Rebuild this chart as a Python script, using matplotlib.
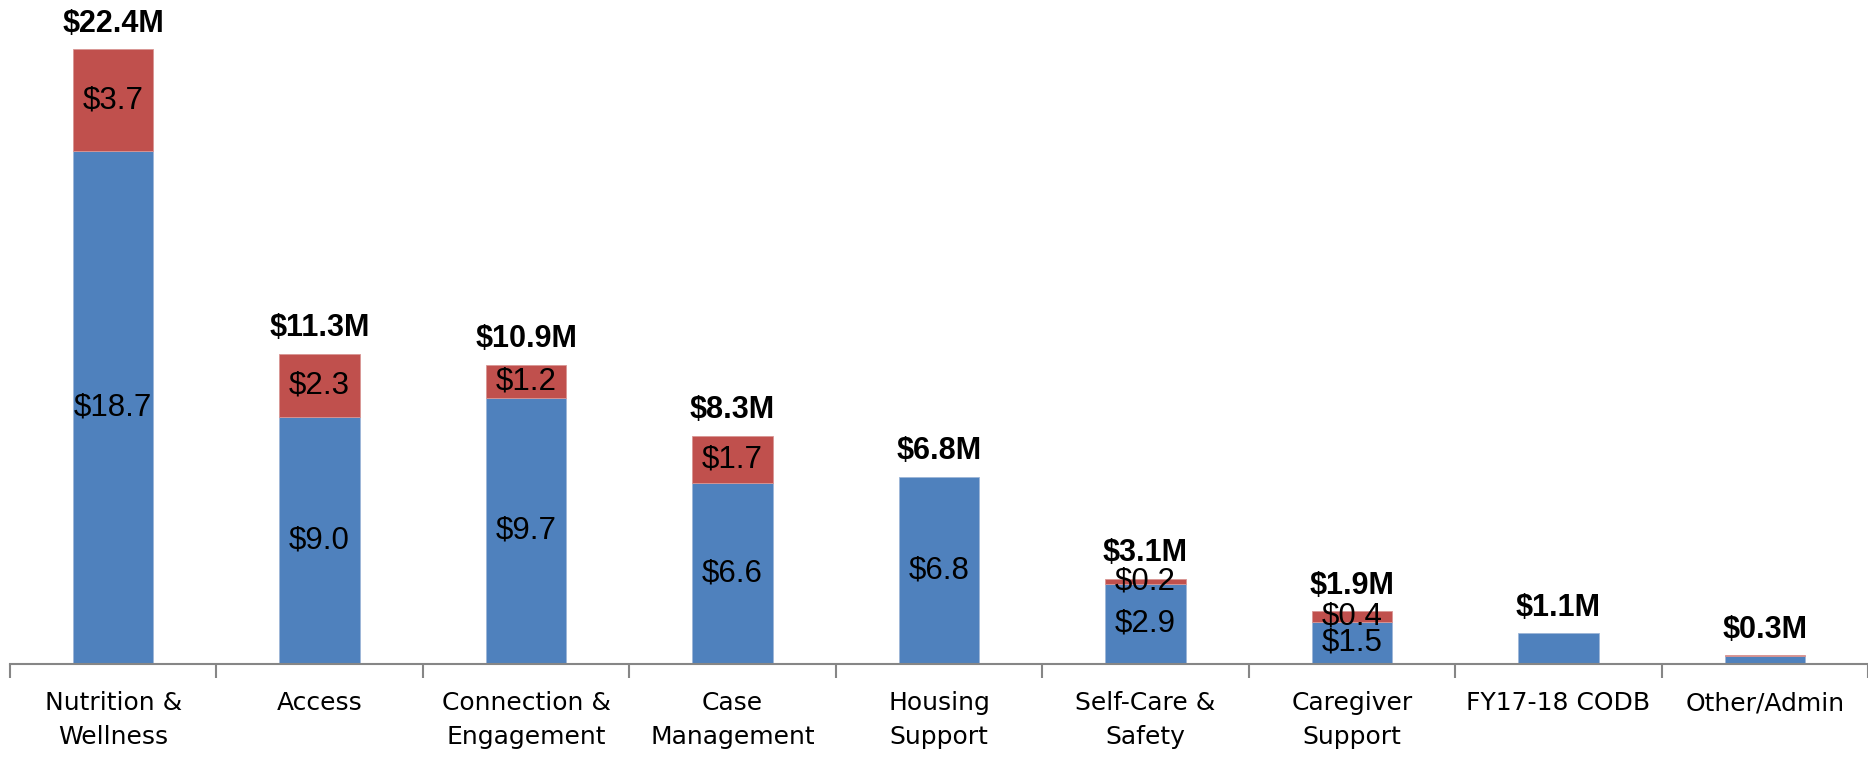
import matplotlib
matplotlib.use("Agg")
import matplotlib.pyplot as plt
import numpy as np

categories = ["Nutrition &\nWellness", "Access", "Connection &\nEngagement", "Case\nManagement",
              "Housing\nSupport", "Self-Care &\nSafety", "Caregiver\nSupport", "FY17-18 CODB", "Other/Admin"]
blue_vals = [18.7, 9.0, 9.7, 6.6, 6.8, 2.9, 1.5, 1.1, 0.27]
red_vals = [3.7, 2.3, 1.2, 1.7, 0.0, 0.2, 0.4, 0.0, 0.03]
blue_labels = ["$18.7", "$9.0", "$9.7", "$6.6", "$6.8", "$2.9", "$1.5", None, None]
red_labels = ["$3.7", "$2.3", "$1.2", "$1.7", None, "$0.2", "$0.4", None, None]
total_labels = ["$22.4M", "$11.3M", "$10.9M", "$8.3M", "$6.8M", "$3.1M", "$1.9M", "$1.1M", "$0.3M"]

BLUE = "#4F81BD"
RED = "#C0504D"

fig = plt.figure(figsize=(18.68, 7.57), dpi=100)
ax = fig.add_axes([0.0053, 0.1235, 0.9947, 0.8765])

x = np.arange(len(categories))
w = 0.39
ax.bar(x, blue_vals, w, color=BLUE, edgecolor="#9db6d8", linewidth=0.6)
nz = [i for i in range(len(red_vals)) if red_vals[i] > 0]
ax.bar(x[nz], [red_vals[i] for i in nz], w, bottom=[blue_vals[i] for i in nz],
       color=RED, edgecolor="#d99694", linewidth=0.6)

lab_font = dict(family=["Liberation Sans", "DejaVu Sans"], fontsize=22.5, color="black")
for i in range(len(categories)):
    if blue_labels[i]:
        ax.text(x[i], blue_vals[i] / 2, blue_labels[i], ha="center", va="center", **lab_font)
    if red_labels[i]:
        ax.text(x[i], blue_vals[i] + red_vals[i] / 2, red_labels[i], ha="center", va="center", **lab_font)
    tot = blue_vals[i] + red_vals[i]
    ax.annotate(total_labels[i], (x[i], tot), xytext=(0, 18.5), textcoords="offset points",
                ha="center", va="center", fontsize=22, fontweight="bold",
                family=["Liberation Sans", "DejaVu Sans"])

ax.set_xlim(-0.5, len(categories) - 0.5)
ax.set_ylim(0, 24.2)
for s in ["top", "right", "left"]:
    ax.spines[s].set_visible(False)
ax.spines["bottom"].set_color("#868686")
ax.spines["bottom"].set_linewidth(1.5)
ax.set_yticks([])
ax.set_xticks(x)
ax.set_xticklabels(categories, family=["DejaVu Sans"], fontsize=18, linespacing=1.5, va="top")
ax.tick_params(axis="x", which="major", length=0, pad=20)
ax.set_xticks(np.arange(-0.5, len(categories), 1.0), minor=True)
ax.tick_params(axis="x", which="minor", length=10, width=1.5, color="#868686")

fig.savefig("out.png", dpi=100)
